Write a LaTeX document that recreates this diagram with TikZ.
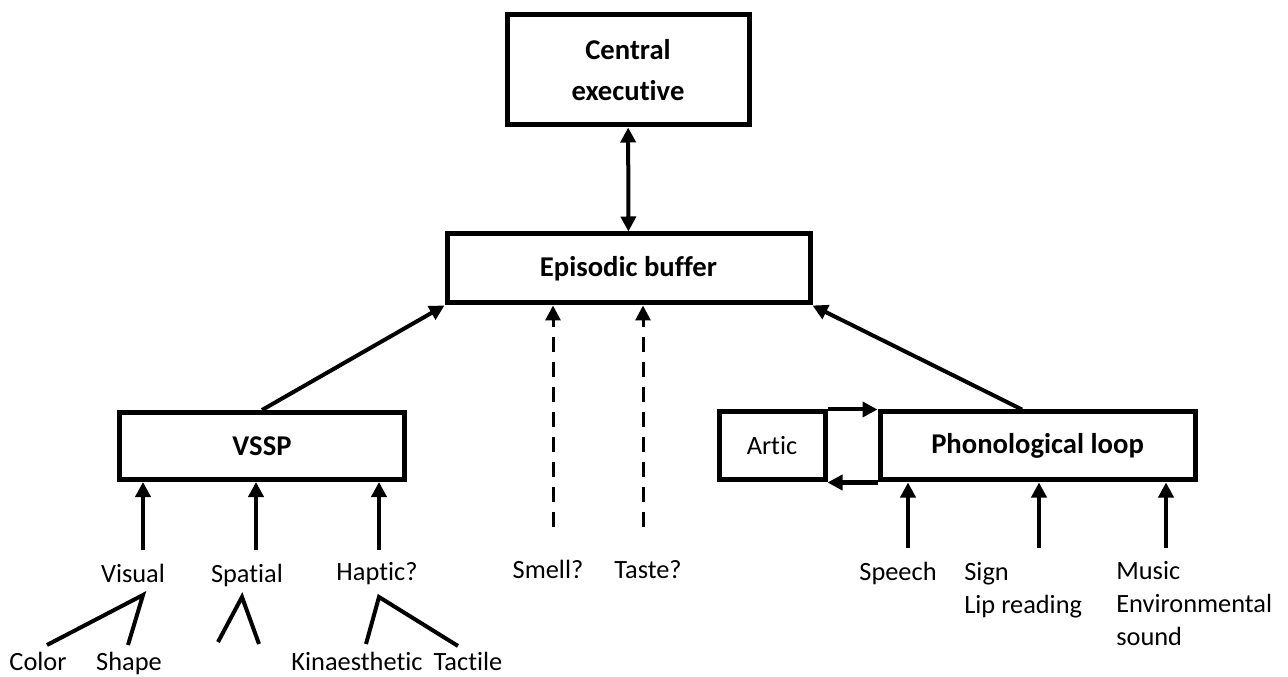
\documentclass[tikz,border=0pt]{standalone}
\usepackage{fontspec}
\setmainfont{Carlito}[Ligatures=NoCommon]
\usetikzlibrary{arrows.meta}
\tikzset{
    >={Triangle[width=3mm,length=3mm]},
    box/.style={draw, line width=1mm, align=center, inner sep=0pt,
        font=\fontsize{16.3}{23.3}\selectfont\bfseries},
    lbl/.style={inner sep=0pt, anchor=base, align=left,
        font=\fontsize{15}{18.5}\selectfont},
    arr/.style={->, line width=0.8mm},
    dasharr/.style={->, line width=0.6mm, dash pattern=on 3mm off 2mm},
    fork/.style={line width=0.8mm},
}
\begin{document}
\begin{tikzpicture}[x=0.2mm,y=-0.2mm]
        \useasboundingbox (0,0) rectangle (1288,677);
        % stores
            \node[box, minimum width=48.4mm, minimum height=22mm] (ce) at (628,70) {Central\\executive};
            \node[box, minimum width=72.6mm, minimum height=13.8mm] (eb) at (628.5,268.5) {Episodic buffer};
            \node[box, minimum width=57mm, minimum height=13.4mm] (vssp) at (262,446) {VSSP};
            \node[box, minimum width=21.2mm, minimum height=13.6mm, font=\fontsize{15}{18}\selectfont] (artic) at (772,446) {Artic};
            \node[box, minimum width=63mm, minimum height=13.6mm] (pl) at (1037.5,446) {Phonological loop};
        % inputs
            \foreach \x/\y/\n/\t in {133/582/visual/Visual, 247/582/spatial/Spatial, 377/580/haptic/Haptic?,
                548/578/smell/Smell?, 648/578/taste/Taste?, 898/580/speech/Speech,
                38/670/color/Color, 129/670/shape/Shape, 357/670/kin/Kinaesthetic, 468/670/tactile/Tactile}{
                \node[lbl] (\n) at (\x,\y) {\t};
            }
            \node[lbl, anchor=base west] (sign) at (964,613) {Sign\\Lip reading};
            \node[lbl, anchor=base west] (music) at (1116,645) {Music\\Environmental\\sound};
        % arrow tails and forks
            \foreach \n/\x/\y in {visin/143/550, spain/256/550, hapin/379/550,
                smellin/553/527, tastein/643/527,
                spein/908/548, sigin/1039/548, musin/1166/548,
                visfork/143/595, colorend/47/645, shapeend/128/645,
                spafork/242/597, spaleft/218/642, sparight/259/644,
                hapfork/379/597, kinend/366/644, tacend/458/646}{
                \coordinate (\n) at (\x,\y);
            }
        % connections
            \draw[arr, <->] (ce) -- (eb);
            \draw[arr] (vssp.north) -- (eb.south west);
            \draw[arr] ([xshift=-3.1mm]pl.north) -- (eb.south east);
            \draw[arr] (artic.north east) -- (artic.north east -| pl.west);
            \draw[arr] (pl.south west) -- (pl.south west -| artic.east);
            \foreach \n in {visin,spain,hapin}
                \draw[arr] (\n) -- (\n |- vssp.south);
            \foreach \n in {spein,sigin,musin}
                \draw[arr] (\n) -- (\n |- pl.south);
            \foreach \n in {smellin,tastein}
                \draw[dasharr] (\n) -- (\n |- eb.south);
            \draw[fork] (colorend) -- (visfork) -- (shapeend);
            \draw[fork] (spaleft) -- (spafork) -- (sparight);
            \draw[fork] (kinend) -- (hapfork) -- (tacend);
\end{tikzpicture}
\end{document}
